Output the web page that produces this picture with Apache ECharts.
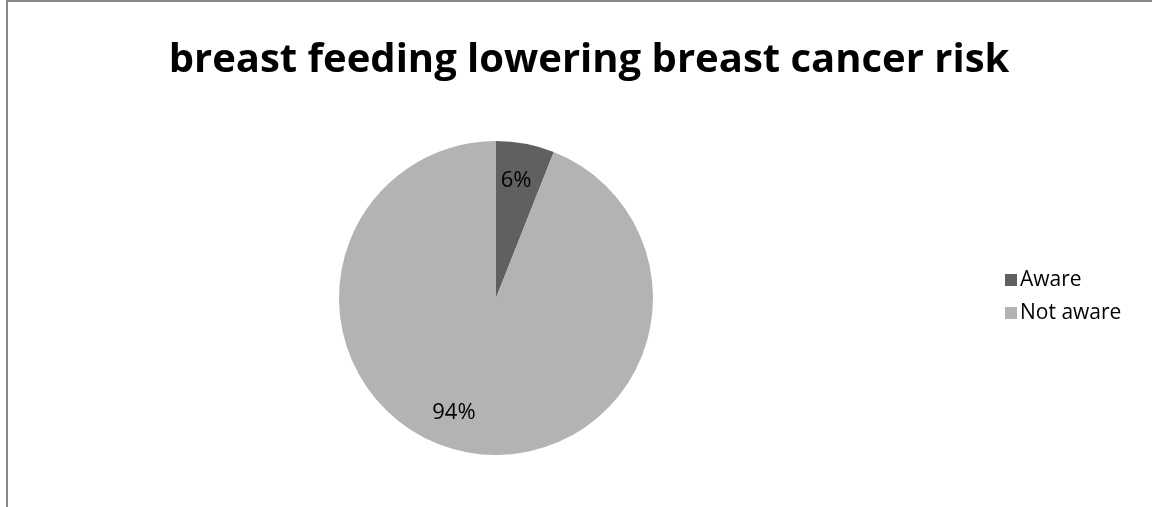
<!DOCTYPE html>
<html>
<head>
<meta charset="utf-8">
<script src="https://cdn.jsdelivr.net/npm/echarts@6/dist/echarts.min.js"></script>
<style>
  html, body { margin: 0; padding: 0; background: #fff; }
  #chart { width: 1152px; height: 507px; }
</style>
</head>
<body>
<div id="chart"></div>
<script>
// Awareness of breastfeeding as a factor lowering breast cancer risk
const categories = ['Aware', 'Not aware'];
const shares = [6, 94];
const sliceColors = ['#606060', '#b3b3b3'];
const titleText = 'breast feeding lowering breast cancer risk';

const pieData = categories.map((name, i) => ({
  name: name,
  value: shares[i],
  itemStyle: { color: sliceColors[i] }
}));

// label-only copy of the data; the large slice's label sits a little off its bisector
const labelData = categories.map((name, i) => ({
  name: name + ' ',
  value: shares[i],
  label: i === 1 ? { offset: [-19, -6] } : { offset: [-3, 4] }
}));

const chart = echarts.init(document.getElementById('chart'));
chart.setOption({
  animation: false,
  backgroundColor: '#fff',
  title: {
    text: titleText,
    left: 584,
    top: 36,
    textAlign: 'center',
    textStyle: {
      fontFamily: 'Open Sans',
      fontWeight: 'bold',
      fontSize: 40,
      color: '#000'
    }
  },
  legend: {
    orient: 'vertical',
    left: 1000,
    top: 260,
    itemWidth: 12,
    itemHeight: 12,
    itemGap: 3,
    icon: 'rect',
    data: categories,
    textStyle: { fontFamily: 'Open Sans', fontSize: 21, lineHeight: 30, color: '#000', padding: [0, 0, 0, -2] }
  },
  graphic: [{
    type: 'rect',
    shape: { x: 7, y: 1, width: 1160, height: 520 },
    style: { fill: 'none', stroke: '#888', lineWidth: 2 },
    silent: true,
    z: 100
  }],
  series: [
    {
      type: 'pie',
      center: [496, 298],
      radius: [0, 157],
      startAngle: 90,
      clockwise: true,
      label: { show: false },
      labelLine: { show: false },
      itemStyle: { borderWidth: 0 },
      emphasis: { disabled: true },
      data: pieData
    },
    {
      // transparent ring that only carries the percentage labels
      type: 'pie',
      center: [496, 298],
      radius: [83, 157],
      startAngle: 90,
      clockwise: true,
      silent: true,
      legendHoverLink: false,
      itemStyle: { color: 'rgba(0,0,0,0)', borderWidth: 0 },
      label: {
        show: true,
        position: 'inside',
        formatter: p => p.value + '%',
        fontFamily: 'Open Sans',
        fontSize: 22,
        color: '#000'
      },
      labelLine: { show: false },
      emphasis: { disabled: true },
      data: labelData
    }
  ]
});
</script>
</body>
</html>
